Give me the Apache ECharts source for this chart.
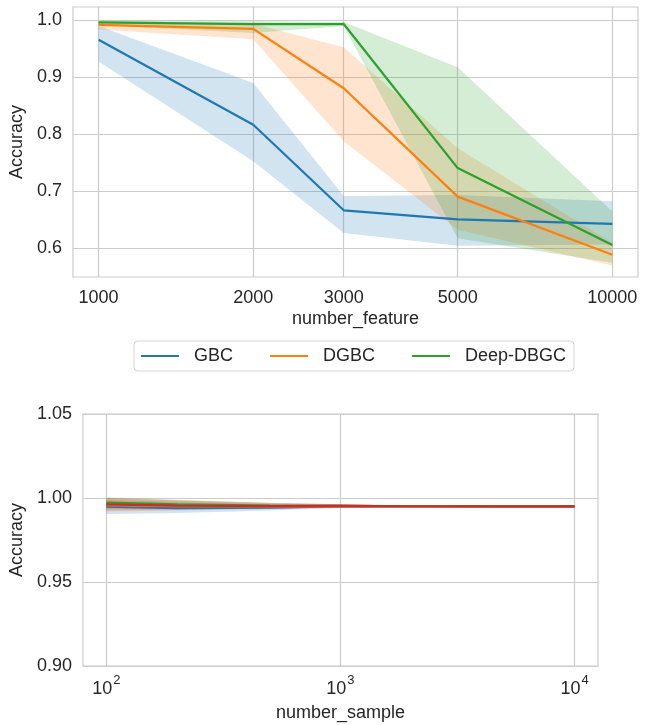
<!DOCTYPE html>
<html>
<head>
<meta charset="utf-8">
<script src="https://cdn.jsdelivr.net/npm/echarts@6/dist/echarts.min.js"></script>
<style>
  html, body { margin: 0; padding: 0; background: #fff; }
  #chart { width: 655px; height: 725px; }
</style>
</head>
<body>
<div id="chart"></div>
<script>
// top panel: accuracy vs number_feature
const featureX = [1000, 2000, 3000, 5000, 10000];
const gbcMean = [0.966, 0.817, 0.667, 0.651, 0.643];
const gbcLow = [0.928, 0.753, 0.627, 0.605, 0.607];
const gbcHigh = [0.990, 0.890, 0.692, 0.694, 0.683];
const dgbcMean = [0.992, 0.985, 0.881, 0.691, 0.589];
const dgbcLow = [0.984, 0.967, 0.788, 0.633, 0.570];
const dgbcHigh = [0.999, 0.994, 0.953, 0.776, 0.610];
const deepMean = [0.9965, 0.9936, 0.9936, 0.741, 0.606];
const deepLow = [0.992, 0.978, 0.990, 0.618, 0.575];
const deepHigh = [1.000, 0.999, 0.997, 0.918, 0.665];

// bottom panel: accuracy vs number_sample
const sampleX = [100, 200, 500, 1000, 2000, 5000, 10000];
const sGbcMean = [0.9948, 0.9940, 0.9942, 0.9950, 0.9950, 0.9950, 0.9950];
const sGbcLow = [0.9905, 0.9910, 0.9925, 0.9940, 0.9945, 0.9948, 0.9949];
const sGbcHigh = [0.9990, 0.9975, 0.9965, 0.9962, 0.9956, 0.9952, 0.9951];
const sDgbcMean = [0.9958, 0.9952, 0.9950, 0.9952, 0.9950, 0.9950, 0.9950];
const sDgbcLow = [0.9920, 0.9925, 0.9935, 0.9942, 0.9946, 0.9948, 0.9949];
const sDgbcHigh = [1.0000, 0.9985, 0.9970, 0.9963, 0.9955, 0.9952, 0.9951];
const sDeepMean = [0.9972, 0.9962, 0.9955, 0.9953, 0.9951, 0.9950, 0.9950];
const sDeepLow = [0.9935, 0.9935, 0.9940, 0.9944, 0.9947, 0.9948, 0.9949];
const sDeepHigh = [1.0005, 0.9990, 0.9972, 0.9963, 0.9955, 0.9952, 0.9951];
const sFourMean = [0.9962, 0.9955, 0.9952, 0.9953, 0.9951, 0.9950, 0.9950];
const sFourLow = [0.9925, 0.9928, 0.9937, 0.9943, 0.9946, 0.9948, 0.9949];
const sFourHigh = [1.0000, 0.9987, 0.9970, 0.9963, 0.9955, 0.9952, 0.9951];

const featureTicks = [1000, 2000, 3000, 5000, 10000];
const sampleTicks = [100, 1000, 10000];
const accTicksTop = [0.6, 0.7, 0.8, 0.9, 1.0];
const accTicksBottom = [0.90, 0.95, 1.00, 1.05];

const colors = ['#1f77b4', '#ff7f0e', '#2ca02c', '#d62728'];
const FONT = "'Liberation Sans', Arial, sans-serif";
const TXT = '#262626';
const GRIDC = '#cccccc';

const lg = v => Math.log10(v);

function line(name, xs, ys, color, gi) {
  return {
    name, type: 'line', xAxisIndex: gi, yAxisIndex: gi,
    data: xs.map((x, i) => [lg(x), ys[i]]),
    showSymbol: false, symbol: 'none', z: 3,
    lineStyle: { color, width: 2.2 }, itemStyle: { color },
    clip: true
  };
}

function band(name, xs, lo, hi, color, gi) {
  return {
    name, type: 'custom', xAxisIndex: gi, yAxisIndex: gi, silent: true, z: 2,
    data: xs.map((x, i) => [lg(x), lo[i], hi[i]]),
    encode: { x: 0, y: [1, 2] },
    itemStyle: { color },
    clip: true,
    renderItem: (params, api) => {
      if (params.dataIndex !== 0) return null;
      const pts = [];
      xs.forEach((x, i) => pts.push(api.coord([lg(x), hi[i]])));
      for (let i = xs.length - 1; i >= 0; i--) pts.push(api.coord([lg(xs[i]), lo[i]]));
      return { type: 'polygon', shape: { points: pts }, style: { fill: color, opacity: 0.2 } };
    }
  };
}

function xAxis(gi, min, max, ticks, name, nameGap, fmt) {
  return {
    type: 'value', gridIndex: gi, min, max,
    name, nameLocation: 'middle', nameGap,
    nameTextStyle: { fontSize: 18, color: TXT, fontFamily: FONT },
    axisLine: { show: false },
    axisTick: { show: false, customValues: ticks.map(lg) },
    axisLabel: { customValues: ticks.map(lg), formatter: fmt, fontSize: 18, color: TXT, fontFamily: FONT, margin: 12 },
    splitLine: { show: true, lineStyle: { color: GRIDC, width: 1.2 } }
  };
}

function yAxis(gi, min, max, ticks, digits, nameGap) {
  return {
    type: 'value', gridIndex: gi, min, max,
    name: 'Accuracy', nameLocation: 'middle', nameGap,
    nameTextStyle: { fontSize: 18, color: TXT, fontFamily: FONT },
    axisLine: { show: false },
    axisTick: { show: false, customValues: ticks },
    axisLabel: { customValues: ticks, formatter: v => v.toFixed(digits), fontSize: 18, color: TXT, fontFamily: FONT, margin: 11 },
    splitLine: { show: true, lineStyle: { color: GRIDC, width: 1.2 } }
  };
}

const chart = echarts.init(document.getElementById('chart'), null, { renderer: 'canvas' });

const option = {
  backgroundColor: '#ffffff',
  animation: false,
  textStyle: { fontFamily: FONT },
  grid: [
    { left: 72, top: 7, width: 566, height: 270, show: true, borderColor: GRIDC, borderWidth: 1.2 },
    { left: 82, top: 414, width: 516, height: 252, show: true, borderColor: GRIDC, borderWidth: 1.2 }
  ],
  legend: {
    left: 134, top: 341,
    data: [
      { name: 'GBC', itemStyle: { color: colors[0] } },
      { name: 'DGBC', itemStyle: { color: colors[1] } },
      { name: 'Deep-DBGC', itemStyle: { color: colors[2] } }
    ],
    icon: 'rect', itemWidth: 38, itemHeight: 2.2, itemGap: 37,
    padding: [6, 8, 6, 7],
    borderColor: '#d5d5d5', borderWidth: 1, borderRadius: 4,
    textStyle: { fontSize: 18, color: TXT, fontFamily: FONT, lineHeight: 18, padding: [0, 0, 0, 10] }
  },
  xAxis: [
    xAxis(0, 2.95, 4.05, featureTicks, 'number_feature', 33, v => String(Math.round(Math.pow(10, v)))),
    xAxis(1, 1.9, 4.1, sampleTicks, 'number_sample', 38, v => '{b|10}{s|' + Math.round(v) + '}')
  ],
  yAxis: [
    yAxis(0, 0.55, 1.0235, accTicksTop, 1, 39),
    yAxis(1, 0.90, 1.05, accTicksBottom, 2, 49)
  ],
  series: [
    band('GBC', featureX, gbcLow, gbcHigh, colors[0], 0),
    band('DGBC', featureX, dgbcLow, dgbcHigh, colors[1], 0),
    band('Deep-DBGC', featureX, deepLow, deepHigh, colors[2], 0),
    line('GBC', featureX, gbcMean, colors[0], 0),
    line('DGBC', featureX, dgbcMean, colors[1], 0),
    line('Deep-DBGC', featureX, deepMean, colors[2], 0),

    band('GBC', sampleX, sGbcLow, sGbcHigh, colors[0], 1),
    band('DGBC', sampleX, sDgbcLow, sDgbcHigh, colors[1], 1),
    band('Deep-DBGC', sampleX, sDeepLow, sDeepHigh, colors[2], 1),
    band('fourth', sampleX, sFourLow, sFourHigh, colors[3], 1),
    line('GBC', sampleX, sGbcMean, colors[0], 1),
    line('DGBC', sampleX, sDgbcMean, colors[1], 1),
    line('Deep-DBGC', sampleX, sDeepMean, colors[2], 1),
    line('fourth', sampleX, sFourMean, colors[3], 1)
  ]
};

// superscript labels for the log axis of the lower panel
option.xAxis[1].axisLabel.rich = {
  b: { fontSize: 18, color: TXT, fontFamily: FONT, verticalAlign: 'bottom', lineHeight: 24 },
  s: { fontSize: 13, color: TXT, fontFamily: FONT, verticalAlign: 'top', lineHeight: 24, padding: [0, 0, 12, 1] }
};
option.xAxis[1].axisLabel.margin = 8;

chart.setOption(option);
</script>
</body>
</html>
